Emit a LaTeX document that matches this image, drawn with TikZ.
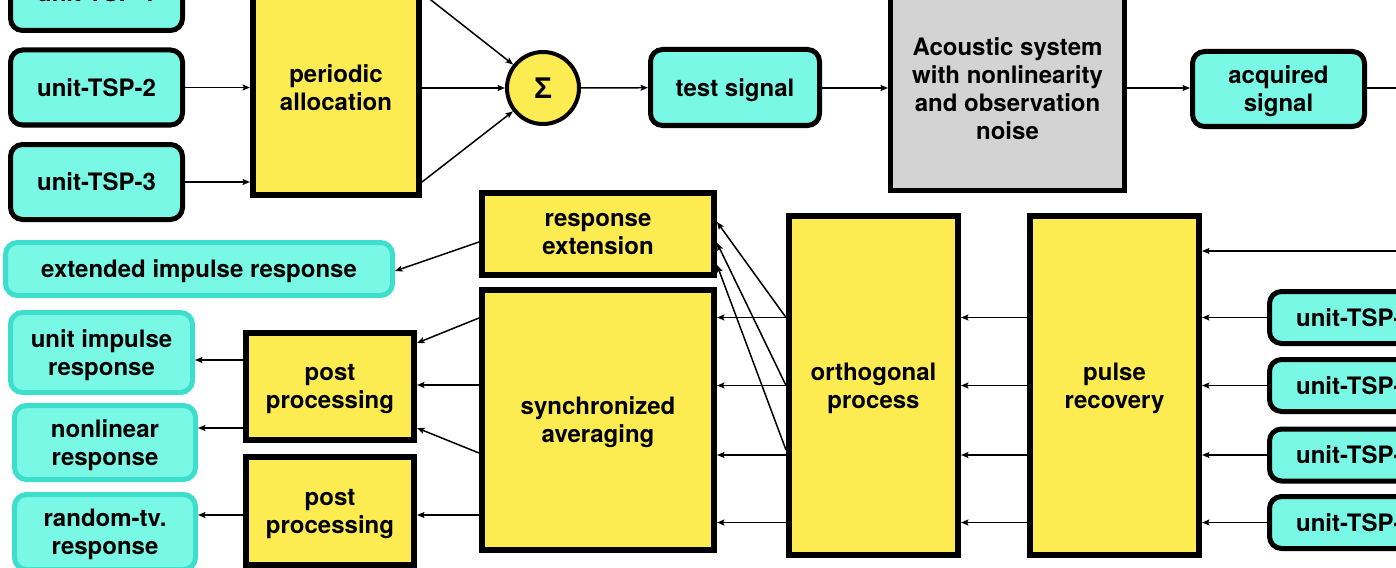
\documentclass[tikz,border=0pt]{standalone}
\usepackage{fontspec}
\setmainfont{TeX Gyre Heros}
\newfontfamily\symfont{Liberation Sans}
\usetikzlibrary{arrows.meta}
\definecolor{cyanfill}{RGB}{122,248,230}
\definecolor{tealline}{RGB}{62,222,204}
\definecolor{yelfill}{RGB}{252,236,82}
\definecolor{grayfill}{RGB}{211,211,211}
\tikzset{
  base/.style={font=\fontsize{24}{28}\selectfont\bfseries, align=center, inner sep=0pt, text depth=0pt},
  cbox/.style={base, draw=black, line width=5pt, fill=cyanfill, rounded corners=12pt},
  tbox/.style={base, draw=tealline, line width=5pt, fill=cyanfill, rounded corners=12pt},
  ybox/.style={base, draw=black, line width=6pt, fill=yelfill},
  gbox/.style={base, draw=black, line width=5pt, fill=grayfill},
  arr/.style={line width=1.5pt, -{Stealth[length=7.5pt,width=6pt,inset=1.5pt]}},
  ln/.style={line width=1.5pt}
}
\begin{document}
\begin{tikzpicture}[x=1pt,y=-1pt]
\useasboundingbox (0,0) rectangle (1396,567);
\clip (0,0) rectangle (1396,567);
\fill[white] (0,0) rectangle (1396,567);
% top row
\node[cbox, minimum width=172pt, minimum height=75pt] (tspA) at (96.5,-7) {unit-TSP-1};
\node[cbox, minimum width=172pt, minimum height=75pt] (tspB) at (96.5,87.5) {unit-TSP-2};
\node[cbox, minimum width=172pt, minimum height=75pt] (tspC) at (96.5,182) {unit-TSP-3};
\node[ybox, minimum width=166pt, minimum height=214pt] (per) at (336,88) {periodic\\allocation};
\node[base, circle, draw=black, line width=4pt, fill=yelfill, minimum size=72pt] (sig) at (543,88) {\symfont\fontsize{30}{30}\selectfont\bfseries Σ};
\node[cbox, minimum width=169pt, minimum height=76pt] (test) at (735,87.5) {test signal};
\node[gbox, minimum width=234pt, minimum height=204pt] (acou) at (1007.5,88.5) {Acoustic system\\with nonlinearity\\and observation\\noise};
\node[cbox, minimum width=172pt, minimum height=75pt] (acq) at (1278.5,89) {acquired\\signal};
\coordinate (acqout) at (1420,88);
\coordinate (pin) at (1420,251);
% right-bottom
\node[ybox, minimum width=169pt, minimum height=339pt] (pulse) at (1114.5,385.5) {pulse\\recovery};
\node[ybox, minimum width=169pt, minimum height=339pt] (orth) at (873.5,385.5) {orthogonal\\process};
\node[ybox, minimum width=232pt, minimum height=82pt] (rext) at (598,234) {response\\extension};
\node[ybox, minimum width=232pt, minimum height=260pt] (sync) at (598,420) {synchronized\\averaging};
\node[ybox, minimum width=168pt, minimum height=107pt] (postA) at (330,386.5) {post\\processing};
\node[ybox, minimum width=168pt, minimum height=108pt] (postB) at (330,511) {post\\processing};
\node[tbox, minimum width=387pt, minimum height=53pt] (ext) at (199,269) {extended impulse response};
\node[tbox, minimum width=182pt, minimum height=80pt] (uir) at (101.5,352.5) {unit impulse\\response};
\node[tbox, minimum width=181pt, minimum height=74pt] (nlr) at (105,442.5) {nonlinear\\response};
\node[tbox, minimum width=181pt, minimum height=75pt] (rtv) at (105,532) {random-tv.\\response};
\node[cbox, minimum width=172pt, minimum height=52pt] (rA) at (1355.5,317.5) {unit-TSP-1};
\node[cbox, minimum width=172pt, minimum height=52pt] (rB) at (1355.5,385.5) {unit-TSP-2};
\node[cbox, minimum width=172pt, minimum height=52pt] (rC) at (1355.5,455) {unit-TSP-3};
\node[cbox, minimum width=172pt, minimum height=52pt] (rD) at (1355.5,522.5) {unit-TSP-4};
% top connectors
\draw[arr] (tspA.east) -- (tspA.east -| per.west);
\draw[arr] (tspB.east) -- (tspB.east -| per.west);
\draw[arr] (tspC.east) -- (tspC.east -| per.west);
\draw[arr] (per.east |- tspA) -- (sig);
\draw[arr] (per.east |- sig) -- (sig);
\draw[arr] (per.east |- tspC) -- (sig);
\draw[arr] (sig) -- (test);
\draw[arr] (test.east |- 0,88) -- (acou.west |- 0,88);
\draw[arr] (acou.east |- 0,88) -- (acq.west |- 0,88);
\draw[ln] (acq.east |- acqout) -- (acqout);
\draw[arr] (pin) -- (pin -| pulse.east);
% right-bottom connectors
\foreach \r in {rA,rB,rC,rD}{
  \draw[arr] (\r.west) -- (\r.west -| pulse.east);
  \draw[arr] (pulse.west |- \r) -- (orth.east |- \r);
  \draw[arr] (orth.west |- \r) -- (sync.east |- \r);
}
\draw[arr] (orth.west |- rA) -- (rext.east |- 0,222);
\draw[arr] (orth.west |- rB) -- (rext.east |- 0,243);
\draw[arr] (orth.west |- 0,450) -- (rext.east |- 0,265);
\draw[arr] (rext.west |- 0,242) -- (ext.east |- 0,271);
\draw[arr] (sync.west |- 0,318) -- (postA.east |- 0,343);
\draw[arr] (sync.west |- 0,385) -- (postA.east |- 0,385);
\draw[arr] (sync.west |- 0,453) -- (postA.east |- 0,428);
\draw[arr] (sync.west |- 0,515) -- (postB.east |- 0,515);
\draw[arr] (postA.west |- 0,360) -- (uir.east |- 0,360);
\draw[arr] (postA.west |- 0,428) -- (nlr.east |- 0,428);
\draw[arr] (postB.west |- 0,515) -- (rtv.east |- 0,515);
\end{tikzpicture}
\end{document}
